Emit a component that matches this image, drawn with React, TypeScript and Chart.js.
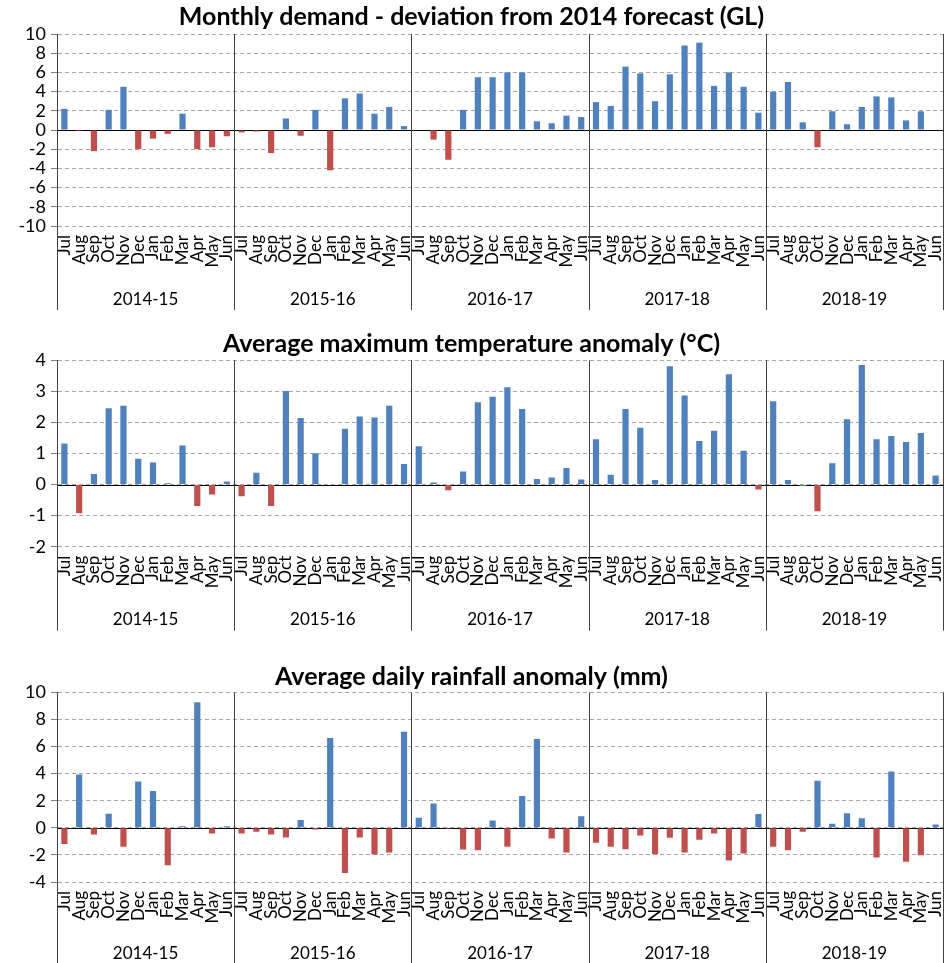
import React, { useEffect, useRef } from 'react';
import { Chart, registerables } from 'chart.js';

Chart.register(...registerables);

const MONTHS = ['Jul', 'Aug', 'Sep', 'Oct', 'Nov', 'Dec', 'Jan', 'Feb', 'Mar', 'Apr', 'May', 'Jun'];
const YEARS = ['2014-15', '2015-16', '2016-17', '2017-18', '2018-19'];

const DEMAND = [
  2.2, -0.1, -2.2, 2.1, 4.5, -2.0, -0.9, -0.4, 1.7, -2.0, -1.8, -0.65,
  -0.25, -0.15, -2.4, 1.2, -0.6, 2.1, -4.2, 3.3, 3.8, 1.7, 2.4, 0.4,
  0.05, -1.0, -3.1, 2.1, 5.5, 5.5, 6.0, 6.0, 0.9, 0.7, 1.5, 1.35,
  2.9, 2.5, 6.6, 5.9, 3.0, 5.8, 8.8, 9.1, 4.6, 6.0, 4.5, 1.8,
  4.0, 5.0, 0.8, -1.8, 1.95, 0.6, 2.4, 3.5, 3.4, 1.0, 1.95, 0,
];

const TEMP = [
  1.32, -0.92, 0.34, 2.46, 2.54, 0.83, 0.71, 0.04, 1.26, -0.69, -0.32, 0.1,
  -0.38, 0.38, -0.69, 3.01, 2.14, 1.01, 0.02, 1.8, 2.19, 2.16, 2.54, 0.66,
  1.23, 0.07, -0.18, 0.42, 2.65, 2.83, 3.13, 2.43, 0.18, 0.23, 0.53, 0.16,
  1.46, 0.32, 2.43, 1.83, 0.15, 3.81, 2.87, 1.4, 1.73, 3.55, 1.09, -0.16,
  2.68, 0.15, -0.05, -0.86, 0.69, 2.1, 3.85, 1.46, 1.56, 1.37, 1.66, 0.29,
];

const RAIN = [
  -1.2, 3.94, -0.49, 1.03, -1.4, 3.42, 2.71, -2.76, 0.12, 9.26, -0.42, 0.12,
  -0.42, -0.3, -0.5, -0.71, 0.57, -0.12, 6.63, -3.33, -0.71, -1.97, -1.82, 7.09,
  0.74, 1.8, -0.07, -1.6, -1.65, 0.54, -1.4, 2.34, 6.55, -0.79, -1.82, 0.86,
  -1.1, -1.4, -1.58, -0.57, -1.95, -0.74, -1.82, -0.89, -0.42, -2.41, -1.9, 1.01,
  -1.4, -1.65, -0.3, 3.47, 0.3, 1.08, 0.71, -2.19, 4.16, -2.51, -2.02, 0.25,
];

const LABELS: string[] = [];
YEARS.forEach(() => MONTHS.forEach((m) => LABELS.push(m)));

const BLUE = '#4F81BD';
const RED = '#C0504D';
const FONT = 'Lato, "Open Sans", sans-serif';

type PanelCfg = {
  title: string;
  data: number[];
  min: number;
  max: number;
  step: number;
  top: number;
  height: number;
  padTop: number;
  padBottom: number;
  xHeight: number;
  yearOffset: number;
  sepExtend: number;
};

const yearPlugin = {
  id: 'yearGroups',
  beforeDatasetsDraw(chart: any) {
    const { ctx, chartArea } = chart;
    const y = chart.scales.y;
    const y0 = Math.round(y.getPixelForValue(0)) + 0.5;
    ctx.save();
    ctx.strokeStyle = '#000';
    ctx.lineWidth = 1;
    ctx.beginPath();
    ctx.moveTo(chartArea.left, y0);
    ctx.lineTo(chartArea.right, y0);
    ctx.stroke();
    ctx.restore();
  },
  afterDraw(chart: any, _args: any, opts: any) {
    const { ctx, chartArea } = chart;
    const x = chart.scales.x;
    const n = LABELS.length;
    const half = (x.getPixelForValue(1) - x.getPixelForValue(0)) / 2;
    ctx.save();
    ctx.strokeStyle = '#404040';
    ctx.lineWidth = 1;
    for (let g = 0; g <= YEARS.length; g++) {
      const idx = g * MONTHS.length;
      const px = idx < n ? x.getPixelForValue(idx) - half : x.getPixelForValue(n - 1) + half;
      const xx = Math.round(px) + 0.5;
      ctx.beginPath();
      ctx.moveTo(xx, chartArea.top);
      ctx.lineTo(xx, chartArea.bottom + opts.sepExtend);
      ctx.stroke();
    }
    ctx.fillStyle = '#000';
    ctx.font = `17px ${FONT}`;
    ctx.textAlign = 'center';
    ctx.textBaseline = 'middle';
    YEARS.forEach((yr, g) => {
      const a = x.getPixelForValue(g * MONTHS.length) - half;
      const b = x.getPixelForValue(g * MONTHS.length + MONTHS.length - 1) + half;
      ctx.fillText(yr, (a + b) / 2, chartArea.bottom + opts.yearOffset);
    });
    ctx.restore();
  },
};

const PANELS: PanelCfg[] = [
  {
    title: 'Monthly demand - deviation from 2014 forecast (GL)',
    data: DEMAND, min: -10, max: 10, step: 2,
    top: 0, height: 320, padTop: 2, padBottom: 2, xHeight: 94, yearOffset: 74, sepExtend: 84,
  },
  {
    title: 'Average maximum temperature anomaly (°C)',
    data: TEMP, min: -2, max: 4, step: 1,
    top: 320, height: 325, padTop: 8.8, padBottom: 1.5, xHeight: 98.3, yearOffset: 73, sepExtend: 84,
  },
  {
    title: 'Average daily rainfall anomaly (mm)',
    data: RAIN, min: -4, max: 10, step: 2,
    top: 645, height: 318, padTop: 16.8, padBottom: 0.5, xHeight: 81, yearOffset: 72, sepExtend: 100,
  },
];

function Panel({ cfg }: { cfg: PanelCfg }) {
  const ref = useRef<HTMLCanvasElement>(null);
  useEffect(() => {
    if (!ref.current) return;
    const chart = new Chart(ref.current, {
      type: 'bar',
      data: {
        labels: LABELS,
        datasets: [
          {
            data: cfg.data,
            backgroundColor: (c: any) => ((c.raw as number) < 0 ? RED : BLUE),
            barPercentage: 0.42,
            categoryPercentage: 1,
            borderWidth: 0,
          },
        ],
      },
      plugins: [yearPlugin],
      options: {
        responsive: false,
        animation: false,
        devicePixelRatio: 1,
        layout: { padding: { left: 0, right: 7, top: 0, bottom: 0 } },
        plugins: {
          legend: { display: false },
          tooltip: { enabled: false },
          title: {
            display: true,
            text: cfg.title,
            color: '#000',
            font: { family: FONT, size: 25, weight: 'bold', lineHeight: 1.2 },
            padding: { top: cfg.padTop, bottom: cfg.padBottom },
          },
          yearGroups: { yearOffset: cfg.yearOffset, sepExtend: cfg.sepExtend },
        } as any,
        scales: {
          x: {
            type: 'category',
            grid: { display: false, drawTicks: false },
            border: { display: false },
            ticks: {
              autoSkip: false,
              maxRotation: 90,
              minRotation: 90,
              padding: 9,
              color: '#000',
              font: { family: FONT, size: 17 },
            },
            afterFit: (s: any) => {
              s.height = cfg.xHeight;
              s.paddingLeft = 0;
              s.paddingRight = 0;
            },
          },
          y: {
            min: cfg.min,
            max: cfg.max,
            grid: {
              color: '#a6a6a6',
              lineWidth: 1,
              drawTicks: true,
              tickLength: 6,
              tickColor: '#808080',
            },
            border: { display: true, color: '#404040', dash: [4, 3] },
            ticks: {
              stepSize: cfg.step,
              autoSkip: false,
              padding: 5,
              color: '#000',
              font: { family: FONT, size: 18 },
            },
            afterFit: (s: any) => {
              s.width = 57;
              s.paddingTop = 0;
              s.paddingBottom = 0;
            },
          },
        },
      } as any,
    });
    return () => chart.destroy();
  }, [cfg]);
  return (
    <canvas
      ref={ref}
      width={950}
      height={cfg.height}
      style={{ position: 'absolute', left: 0, top: cfg.top, width: 950, height: cfg.height }}
    />
  );
}

export default function App() {
  return (
    <div style={{ position: 'absolute', left: 0, top: 0, width: 950, height: 963, background: '#fff' }}>
      {PANELS.map((p, i) => (
        <Panel key={i} cfg={p} />
      ))}
    </div>
  );
}
